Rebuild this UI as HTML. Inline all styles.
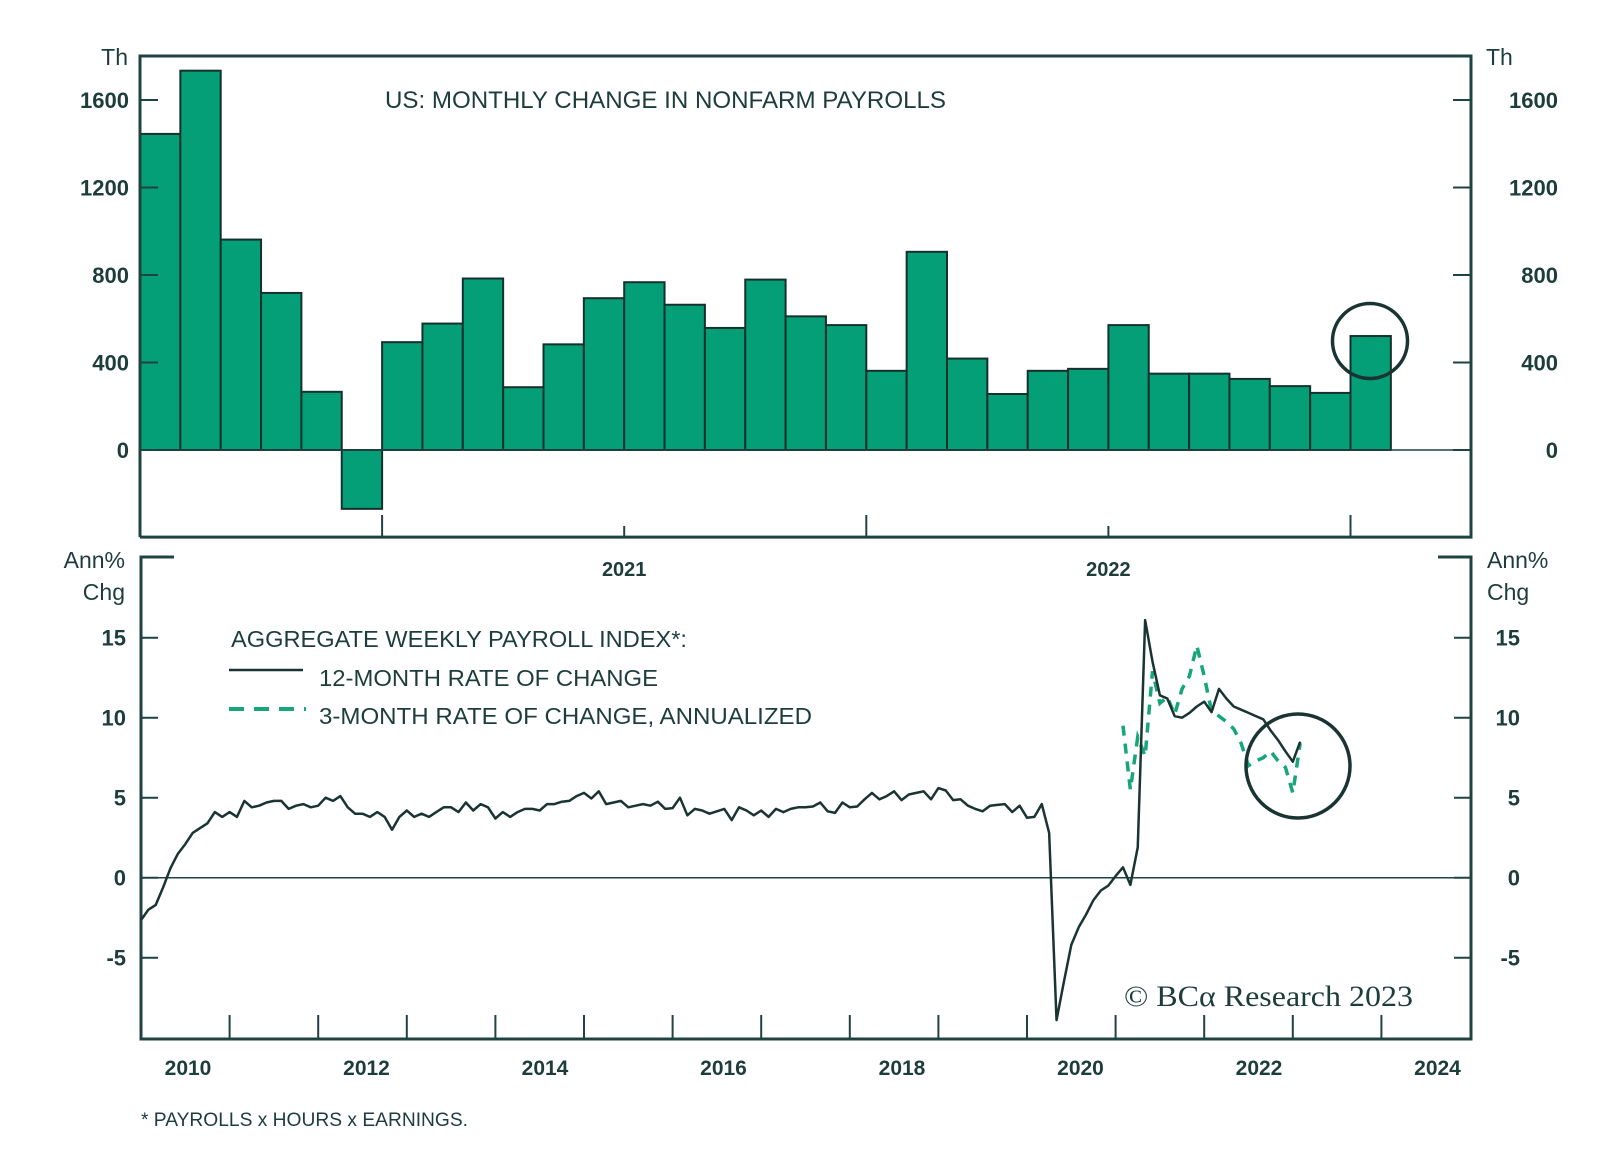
<!DOCTYPE html>
<html><head><meta charset="utf-8"><style>
html,body{margin:0;padding:0;background:#fff;}
svg{display:block;}
text{font-family:"Liberation Sans",sans-serif;fill:#1d3d3b;}
.lab{font-size:22px;font-weight:bold;}
</style></head><body>
<svg id="chart" width="1600" height="1160" viewBox="0 0 1600 1160" xmlns="http://www.w3.org/2000/svg"></svg>
<script>
// ---- top panel data (monthly change in nonfarm payrolls, thousands), Jul 2020 .. Jan 2023
const barValues = [1445,1734,962,718,266,-269,493,578,784,287,483,694,767,664,558,779,611,571,362,906,418,256,362,371,571,349,349,325,292,261,521];
const topTicks = [0,400,800,1200,1600];
const topYearLabels = ["2021","2022"];
// ---- bottom panel data (monthly, from Jan 2010)
const line12m = [-2.65,-2.0,-1.7,-0.6,0.6,1.5,2.1,2.8,3.1,3.4,4.1,3.8,4.1,3.8,4.8,4.4,4.5,4.7,4.8,4.8,4.3,4.5,4.6,4.4,4.5,5.0,4.8,5.1,4.4,4.0,4.0,3.8,4.1,3.8,3.0,3.8,4.2,3.8,4.0,3.8,4.1,4.4,4.4,4.1,4.7,4.2,4.6,4.4,3.7,4.1,3.8,4.1,4.3,4.3,4.2,4.6,4.6,
4.75,4.8,5.1,5.3,4.95,5.4,4.6,4.7,4.8,4.4,4.5,4.6,4.5,4.75,4.3,4.35,5.0,3.9,4.3,4.2,4.0,4.15,4.3,3.6,4.4,4.2,3.9,4.2,3.8,4.3,4.1,4.3,4.4,4.4,4.45,4.7,4.15,4.05,4.7,4.4,4.45,4.9,5.3,4.9,5.1,5.4,4.85,5.2,5.3,5.4,4.9,5.6,5.45,4.85,4.9,4.5,4.3,4.15,4.5,4.55,4.6,4.1,4.5,3.75,3.8,4.6,2.8,-8.9,-6.5,-4.2,-3.1,-2.3,-1.4,-0.8,-0.5,0.1,0.65,-0.45,1.9,16.1,13.5,11.4,11.2,10.1,10.0,10.3,10.7,11.0,10.35,11.8,11.2,10.7,10.5,10.3,10.1,9.9,9.2,8.6,7.9,7.25,8.5];
const dashStart = 133;
const line3m = [9.5,5.5,8.8,7.6,12.9,10.9,11.3,10.2,11.8,12.6,14.5,12.6,10.4,10.1,9.75,9.3,8.4,7.0,7.3,7.5,7.9,7.3,6.9,5.3,8.4];
const botTicks = [-5,0,5,10,15];
const yearLabels = ["2010","2012","2014","2016","2018","2020","2022","2024"];

const svg = document.getElementById('chart');
const NS = 'http://www.w3.org/2000/svg';
function mk(tag, attrs, parent){const e=document.createElementNS(NS,tag);for(const k in attrs)e.setAttribute(k,attrs[k]);(parent||svg).appendChild(e);return e;}
const C='#1f4341';
const L=141, R=1471;
const tY = v => 450 - v*87.5/400;
const bW = 40.35;
const tX = i => 140 + i*bW;
const bY = v => 877.7 - v*16;
const mX = m => 141 + m*88.6/12;

const gBars = mk('g',{});


barValues.forEach((v,i)=>{
  const y0=tY(0), y1=tY(v);
  const r=mk('rect',{x:tX(i),y:Math.min(y0,y1),width:bW,height:Math.abs(y1-y0),fill:'#049e77',stroke:'#16302d','stroke-width':2},gBars);
  
  
});
mk('line',{x1:140,y1:tY(0),x2:R,y2:tY(0),stroke:C,'stroke-width':1.5});
mk('path',{d:`M140 ${tY(-398)} V56 H${R} V${tY(-398)} H140`,fill:'none',stroke:C,'stroke-width':3});
topTicks.forEach(v=>{
  mk('line',{x1:140,y1:tY(v),x2:158,y2:tY(v),stroke:C,'stroke-width':2});
  mk('line',{x1:R-18,y1:tY(v),x2:R,y2:tY(v),stroke:C,'stroke-width':2});
  const t1=mk('text',{x:129,y:tY(v)+8,'text-anchor':'end',class:'lab'});t1.textContent=v;
  
  const t2=mk('text',{x:1558,y:tY(v)+8,'text-anchor':'end',class:'lab'});t2.textContent=v;
  
});
[6,18,30].forEach(i=>mk('line',{x1:tX(i),y1:537,x2:tX(i),y2:515,stroke:C,'stroke-width':2}));
[12,24].forEach((i,k)=>{
  mk('line',{x1:tX(i),y1:537,x2:tX(i),y2:526,stroke:C,'stroke-width':2});
  const t=mk('text',{x:tX(i),y:576,'text-anchor':'middle',class:'lab',style:'font-size:20px'});t.textContent=topYearLabels[k];
  
});
let t;
t=mk('text',{x:128,y:65,'text-anchor':'end',class:'lab',style:'font-size:23px;font-weight:normal'});t.textContent='Th';
t=mk('text',{x:1486,y:65,class:'lab',style:'font-size:23px;font-weight:normal'});t.textContent='Th';
t=mk('text',{x:385,y:108,textLength:561,lengthAdjust:'spacingAndGlyphs',style:'font-size:24px'});t.textContent='US: MONTHLY CHANGE IN NONFARM PAYROLLS';

const c1=mk('circle',{cx:1370,cy:341,r:37.5,fill:'none',stroke:'#1a3432','stroke-width':3.5});


mk('path',{d:`M174 557 H141 V1039 H${R} V557 H${R-33}`,fill:'none',stroke:C,'stroke-width':3});
mk('line',{x1:141,y1:bY(0),x2:R,y2:bY(0),stroke:C,'stroke-width':1.5});
botTicks.forEach(v=>{
  mk('line',{x1:141,y1:bY(v),x2:158,y2:bY(v),stroke:C,'stroke-width':2});
  mk('line',{x1:R-17,y1:bY(v),x2:R,y2:bY(v),stroke:C,'stroke-width':2});
  const a=mk('text',{x:126,y:bY(v)+8,'text-anchor':'end',class:'lab'});a.textContent=v;
  
  const b=mk('text',{x:1520,y:bY(v)+8,'text-anchor':'end',class:'lab'});b.textContent=v;
  
});
for(let k=1;k<15;k++) mk('line',{x1:mX(k*12),y1:1039,x2:mX(k*12),y2:1015,stroke:C,'stroke-width':2});
yearLabels.forEach((s,k)=>{
  const a=mk('text',{x:188+k*178.5,y:1075,'text-anchor':'middle',class:'lab',style:'font-size:21px'});a.textContent=s;
  
});
t=mk('text',{x:125,y:568,'text-anchor':'end',class:'lab',style:'font-size:23px;font-weight:normal'});t.textContent='Ann%';
t=mk('text',{x:125,y:600,'text-anchor':'end',class:'lab',style:'font-size:23px;font-weight:normal'});t.textContent='Chg';
t=mk('text',{x:1487,y:568,class:'lab',style:'font-size:23px;font-weight:normal'});t.textContent='Ann%';
t=mk('text',{x:1487,y:600,class:'lab',style:'font-size:23px;font-weight:normal'});t.textContent='Chg';
t=mk('text',{x:231,y:647,textLength:456,lengthAdjust:'spacingAndGlyphs',style:'font-size:23px'});t.textContent='AGGREGATE WEEKLY PAYROLL INDEX*:';

mk('line',{x1:229,y1:670,x2:303,y2:670,stroke:'#1a3432','stroke-width':2.5});
t=mk('text',{x:319,y:686,textLength:339,lengthAdjust:'spacingAndGlyphs',style:'font-size:23px'});t.textContent='12-MONTH RATE OF CHANGE';

mk('line',{x1:229,y1:709,x2:306,y2:709,stroke:'#17a57a','stroke-width':4,'stroke-dasharray':'15 10'});
t=mk('text',{x:319,y:724,textLength:493,lengthAdjust:'spacingAndGlyphs',style:'font-size:23px'});t.textContent='3-MONTH RATE OF CHANGE, ANNUALIZED';

const p3=mk('polyline',{points:line3m.map((v,i)=>mX(dashStart+i)+','+bY(v)).join(' '),fill:'none',stroke:'#17a57a','stroke-width':3.5,'stroke-dasharray':'10 8'});

const p12=mk('polyline',{points:line12m.map((v,i)=>mX(i)+','+bY(v)).join(' '),fill:'none',stroke:'#1a3432','stroke-width':2.5,'stroke-linejoin':'round'});

const c2=mk('circle',{cx:1298,cy:766,r:52,fill:'none',stroke:'#1a3432','stroke-width':3.5});

t=mk('text',{x:1124,y:1006,textLength:289,lengthAdjust:'spacingAndGlyphs',style:'font-family:\"Liberation Serif\",serif;font-size:30px'});t.textContent='© BCα Research 2023';

t=mk('text',{x:141,y:1126,textLength:327,lengthAdjust:'spacingAndGlyphs',style:'font-size:19px'});t.textContent='* PAYROLLS x HOURS x EARNINGS.';

</script>
</body></html>
